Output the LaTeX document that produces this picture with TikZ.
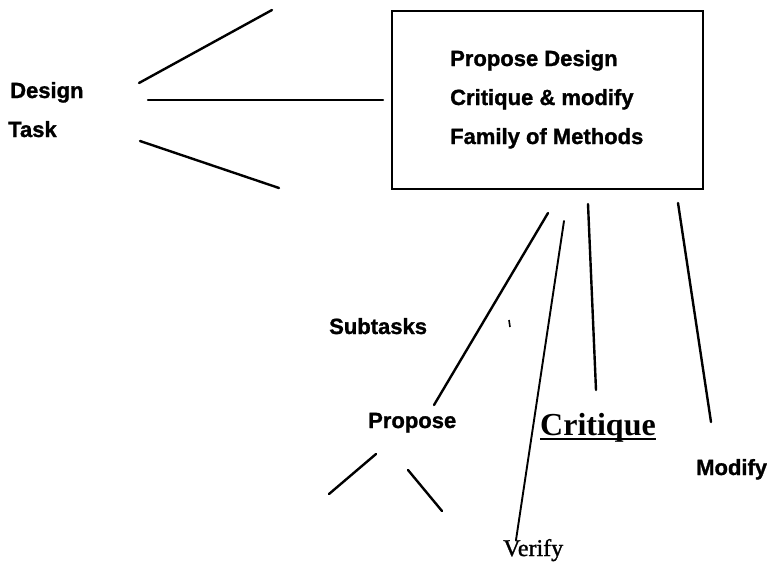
\documentclass[tikz,border=0pt]{standalone}
\usepackage{fontspec}
\setmainfont{Liberation Serif}
\newfontfamily\labelsans{Liberation Sans}[BoldFeatures={FakeBold=1.2}]
\newfontfamily\thinserif{Liberation Serif}[FakeBold=1.2]
\begin{document}
\begin{tikzpicture}[x=1pt,y=-1pt,
  seg/.style={line width=2.4pt,line cap=round},
  sanslabel/.style={inner sep=0pt,anchor=base west,font=\labelsans\bfseries\fontsize{22}{26}\selectfont},
  serifbig/.style={inner sep=0pt,anchor=base west,font=\bfseries\fontsize{32}{36}\selectfont},
  serifsmall/.style={inner sep=0pt,anchor=base west,font=\thinserif\fontsize{24}{28}\selectfont}]
\useasboundingbox (0,0) rectangle (767,565);

% method box
\node[draw,line width=2pt,minimum width=311pt,minimum height=178pt,inner sep=0pt,anchor=north west] (methods) at (391,10) {};
\node[sanslabel] (pd) at (450,66) {Propose Design};
\node[sanslabel] (cm) at (450,105) {Critique \& modify};
\node[sanslabel] (fm) at (450,144) {Family of Methods};

% task label
\node[sanslabel] (design) at (10,98) {Design};
\node[sanslabel] (task) at (8,137) {Task};

% subtask labels
\node[sanslabel] (subtasks) at (329,334) {Subtasks};
\node[sanslabel] (propose) at (368,428) {Propose};
\node[serifbig] (critique) at (540,435) {Critique};
\node[sanslabel] (modify) at (696,475) {Modify};
\node[serifsmall] (verify) at (503,556) {Verify};
\draw[line width=2pt] ([yshift=-4pt]critique.base west) -- ([yshift=-4pt]critique.base east);

% segment end points
\coordinate (t1a) at (139,83);  \coordinate (t1b) at (272,10);
\coordinate (t2a) at (148,100); \coordinate (t2b) at (383,100);
\coordinate (t3a) at (140,141); \coordinate (t3b) at (279,188);
\coordinate (sa) at (548,213);  \coordinate (sb) at (434,405);
\coordinate (va) at (564,221);  \coordinate (vb) at (516,540);
\coordinate (ca) at (588,204);  \coordinate (cb) at (596,390);
\coordinate (ma) at (678,203);  \coordinate (mb) at (711,422);
\coordinate (pla) at (376,454); \coordinate (plb) at (329,494);
\coordinate (pra) at (408,470); \coordinate (prb) at (442,511);
\coordinate (ka) at (509,320);  \coordinate (kb) at (510,327);

% task fan
\draw[seg] (t1a) -- (t1b);
\draw[seg] (t2a) -- (t2b);
\draw[seg] (t3a) -- (t3b);

% subtask lines
\draw[seg] (sa) -- (sb);
\draw[line width=1.9pt,line cap=round] (va) -- (vb);
\draw[seg] (ca) -- (cb);
\draw[seg] (ma) -- (mb);
\draw[seg] (pla) -- (plb);
\draw[seg] (pra) -- (prb);
\draw[line width=1.6pt] (ka) -- (kb);
\end{tikzpicture}
\end{document}
